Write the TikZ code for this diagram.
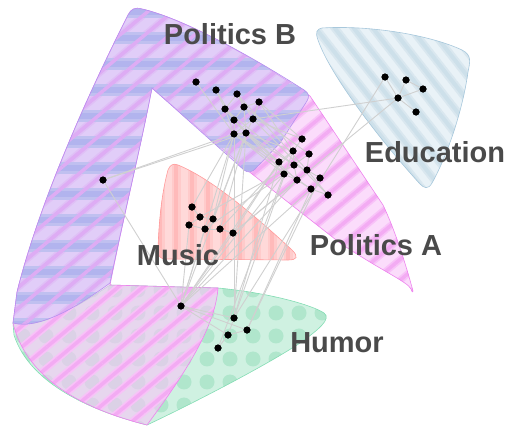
\documentclass[tikz,border=0pt]{standalone}
\usepackage{fontspec}
\newfontfamily\tagfont{Liberation Sans}
\usetikzlibrary{patterns.meta}

\definecolor{humorfill}{HTML}{CFF1E1}
\definecolor{humordot}{HTML}{B0E6CC}
\definecolor{humorline}{HTML}{84DDB4}
\definecolor{polafill}{HTML}{F8C4F8}
\definecolor{polasoft}{HTML}{F8C2F8}
\definecolor{polastripe}{HTML}{F3ABF3}
\definecolor{polaline}{HTML}{EE84EE}
\definecolor{polbfill}{HTML}{C8C0F6}
\definecolor{polbsoft}{HTML}{C0C0F0}
\definecolor{polbband}{HTML}{B2B4EE}
\definecolor{polbstripe}{HTML}{DEACF4}
\definecolor{polbline}{HTML}{B890F0}
\definecolor{musicfill}{HTML}{FFD9D9}
\definecolor{musicsoft}{HTML}{FFCBCB}
\definecolor{musicstripe}{HTML}{FFBABA}
\definecolor{musicline}{HTML}{FF9C9C}
\definecolor{edufill}{HTML}{E9F2F7}
\definecolor{edusoft}{HTML}{D9E7EF}
\definecolor{edustripe}{HTML}{CDE0EA}
\definecolor{eduline}{HTML}{A8C8DC}
\definecolor{linkgray}{HTML}{D0D0D0}
\definecolor{tagtext}{HTML}{4A4A4A}

\tikzset{
  dot/.style={circle,fill=black,inner sep=0pt,minimum size=7pt},
  link/.style={draw=linkgray,line width=0.9pt},
  tag/.style={anchor=base,inner sep=0pt,text=tagtext,font=\tagfont\bfseries\fontsize{29}{30}\selectfont},
  humor/.style={preaction={fill=humorfill},pattern={Dots[radius=7.5pt,distance=23pt]},pattern color=humordot,draw=humorline,line width=0.6pt},
  pola/.style={preaction={fill=polafill,fill opacity=0.6},
    preaction={pattern={Lines[angle=40,distance=16pt,line width=7pt]},pattern color=polasoft},
    pattern={Lines[angle=40,distance=16pt,line width=3.5pt]},pattern color=polastripe,
    draw=polaline,line width=0.6pt},
  polb/.style={preaction={fill=polbfill,fill opacity=0.5},
    preaction={pattern={Lines[angle=0,distance=26pt,line width=12pt]},pattern color=polbsoft},
    preaction={pattern={Lines[angle=0,distance=26pt,line width=6pt]},pattern color=polbband},
    pattern={Lines[angle=40,distance=16pt,line width=3.5pt]},pattern color=polbstripe,
    draw=polbline,line width=0.6pt},
  music/.style={preaction={fill=musicfill},
    preaction={pattern={Lines[angle=90,distance=16pt,line width=9pt]},pattern color=musicsoft},
    pattern={Lines[angle=90,distance=16pt,line width=4pt]},pattern color=musicstripe,
    draw=musicline,line width=0.6pt},
  edu/.style={preaction={fill=edufill},
    preaction={pattern={Lines[angle=-52,distance=15pt,line width=8pt]},pattern color=edusoft},
    pattern={Lines[angle=-52,distance=15pt,line width=4pt]},pattern color=edustripe,
    draw=eduline,line width=0.6pt}
}

\begin{document}
\begin{tikzpicture}[x=1pt,y=-1pt]
\useasboundingbox (0,0) rectangle (519,428);

% regions
\path[humor] (110,285) -- (218,288) .. controls (270,293) and (312,305) .. (324,313)
  .. controls (332,319) and (318,330) .. (300,343) .. controls (270,363) and (200,400) .. (147,425)
  .. controls (95,412) and (30,385) .. (14,335) -- (13,323)
  .. controls (40,330) and (80,305) .. (110,285) -- cycle;
\path[pola] (413,291) .. controls (406,265) and (395,230) .. (383,205) -- (310,96)
  .. controls (270,68) and (190,20) .. (142,9) .. controls (135,7) and (131,9) .. (128,15)
  .. controls (90,90) and (40,200) .. (17,292) -- (13,323)
  .. controls (28,385) and (95,412) .. (147,425) .. controls (180,380) and (215,330) .. (218,288)
  -- (110,285) .. controls (125,210) and (140,150) .. (152,88) -- (247,170) -- (340,243)
  .. controls (380,270) and (408,282) .. (411,289) .. controls (412,292) and (413,293) .. (413,291) -- cycle;
\path[polb] (13,323) -- (17,292) .. controls (40,200) and (90,90) .. (128,15)
  .. controls (131,9) and (135,7) .. (142,9) .. controls (190,20) and (270,68) .. (304,90)
  .. controls (310,94) and (309,97) .. (307,101) -- (280,143) -- (257,167)
  .. controls (252,173) and (248,173) .. (244,170) -- (152,88)
  .. controls (140,150) and (125,210) .. (110,283) .. controls (80,305) and (40,330) .. (13,323) -- cycle;
\path[music] (178,165) .. controls (215,180) and (265,225) .. (292,250)
  .. controls (299,257) and (297,260) .. (288,260) -- (166,259)
  .. controls (160,259) and (158,256) .. (158,250) .. controls (159,215) and (163,188) .. (168,170)
  .. controls (170,165) and (173,163) .. (178,165) -- cycle;
\path[edu] (322,28) .. controls (370,25) and (430,35) .. (462,50)
  .. controls (472,55) and (470,62) .. (468,72) .. controls (462,115) and (445,160) .. (432,183)
  .. controls (428,190) and (424,188) .. (420,184) .. controls (380,140) and (330,75) .. (318,40)
  .. controls (315,32) and (317,29) .. (322,28) -- cycle;

% vertices
\node[dot] (b1) at (196,82) {};
\node[dot] (b2) at (216,90) {};
\node[dot] (b3) at (237,94) {};
\node[dot] (b4) at (259,102) {};
\node[dot] (b5) at (225,109) {};
\node[dot] (b6) at (244,107) {};
\node[dot] (b7) at (234,120) {};
\node[dot] (b8) at (253,119) {};
\node[dot] (b9) at (234,134) {};
\node[dot] (b10) at (246,133) {};
\node[dot] (a1) at (302,139) {};
\node[dot] (a2) at (293,151) {};
\node[dot] (a3) at (309,154) {};
\node[dot] (a4) at (279,162) {};
\node[dot] (a5) at (294,165) {};
\node[dot] (a6) at (307,170) {};
\node[dot] (a7) at (284,174) {};
\node[dot] (a8) at (320,178) {};
\node[dot] (a9) at (297,180) {};
\node[dot] (a10) at (311,189) {};
\node[dot] (a11) at (328,195) {};
\node[dot] (e1) at (385,77) {};
\node[dot] (e2) at (406,80) {};
\node[dot] (e3) at (423,89) {};
\node[dot] (e4) at (398,98) {};
\node[dot] (e5) at (416,112) {};
\node[dot] (m1) at (192,207) {};
\node[dot] (m2) at (200,217) {};
\node[dot] (m3) at (213,219) {};
\node[dot] (m4) at (189,225) {};
\node[dot] (m5) at (205,229) {};
\node[dot] (m6) at (220,229) {};
\node[dot] (m7) at (233,233) {};
\node[dot] (h0) at (181,306) {};
\node[dot] (h1) at (234,318) {};
\node[dot] (h2) at (247,330) {};
\node[dot] (h3) at (228,335) {};
\node[dot] (h4) at (218,348) {};
\node[dot] (l1) at (103,180) {};

% links
\draw[link] (b1) to (b9);
\draw[link] (b2) to (b5);
\draw[link] (b2) to (b7);
\draw[link] (b3) to (b5);
\draw[link] (b3) to (b6);
\draw[link] (b3) to (b8);
\draw[link] (b4) to (b6);
\draw[link] (b4) to (b8);
\draw[link] (b5) to (b7);
\draw[link] (b5) to (b9);
\draw[link] (b6) to (b7);
\draw[link] (b6) to (b10);
\draw[link] (b7) to (b9);
\draw[link] (b7) to (b10);
\draw[link] (b8) to (b9);
\draw[link] (b8) to (b10);
\draw[link] (b9) to (b10);
\draw[link] (b9) to (a4);
\draw[link] (b9) to (a7);
\draw[link] (b10) to (a2);
\draw[link] (b10) to (a5);
\draw[link] (b7) to (a4);
\draw[link] (b8) to (a1);
\draw[link] (b6) to (a3);
\draw[link] (b5) to (a5);
\draw[link] (b3) to (a6);
\draw[link] (b4) to (a2);
\draw[link] (b10) to (a9);
\draw[link] (b9) to (a10);
\draw[link] (b8) to (a11);
\draw[link] (b7) to (a7);
\draw[link] (b4) to (a1);
\draw[link] (a1) to (a2);
\draw[link] (a2) to (a4);
\draw[link] (a2) to (a5);
\draw[link] (a3) to (a5);
\draw[link] (a4) to (a7);
\draw[link] (a5) to (a6);
\draw[link] (a6) to (a8);
\draw[link] (a7) to (a9);
\draw[link] (a9) to (a10);
\draw[link] (a10) to (a11);
\draw[link] (a6) to (a11);
\draw[link] (a3) to (a6);
\draw[link] (a5) to (a9);
\draw[link] (l1) to (b9);
\draw[link] (l1) to (b10);
\draw[link] (l1) to (h0);
\draw[link] (e1) to (e4);
\draw[link] (e2) to (e4);
\draw[link] (e2) to (e3);
\draw[link] (e3) to (e4);
\draw[link] (e4) to (e5);
\draw[link] (e4) to (b8);
\draw[link] (e1) to (h1);
\draw[link] (e4) to (m7);
\draw[link] (m1) to (m2);
\draw[link] (m2) to (m3);
\draw[link] (m2) to (m4);
\draw[link] (m3) to (m5);
\draw[link] (m4) to (m5);
\draw[link] (m5) to (m6);
\draw[link] (m6) to (m7);
\draw[link] (m1) to (b9);
\draw[link] (m3) to (b9);
\draw[link] (m3) to (b10);
\draw[link] (m6) to (b10);
\draw[link] (m7) to (a4);
\draw[link] (m5) to (a7);
\draw[link] (m7) to (a9);
\draw[link] (m6) to (a2);
\draw[link] (m2) to (a5);
\draw[link] (h0) to (m4);
\draw[link] (h0) to (m5);
\draw[link] (h0) to (m7);
\draw[link] (h0) to (b9);
\draw[link] (h0) to (b10);
\draw[link] (h0) to (a4);
\draw[link] (h0) to (a7);
\draw[link] (h0) to (a9);
\draw[link] (h0) to (a10);
\draw[link] (h0) to (h1);
\draw[link] (h0) to (h2);
\draw[link] (h0) to (h3);
\draw[link] (h1) to (h3);
\draw[link] (h1) to (b9);
\draw[link] (h1) to (b10);
\draw[link] (h1) to (a4);
\draw[link] (h1) to (a2);
\draw[link] (h2) to (h3);
\draw[link] (h2) to (a10);
\draw[link] (h2) to (a8);
\draw[link] (h3) to (h4);
\draw[link] (h4) to (a7);

% put the vertices back on top of the links
\foreach \v in {b1,b2,b3,b4,b5,b6,b7,b8,b9,b10,a1,a2,a3,a4,a5,a6,a7,a8,a9,a10,a11,e1,e2,e3,e4,e5,m1,m2,m3,m4,m5,m6,m7,h0,h1,h2,h3,h4,l1}
  \fill (\v) circle (3.5pt);

% group names
\node[tag] (tagpolb) at (230,45) {Politics B};
\node[tag] (tagedu) at (435,162) {Education};
\node[tag] (tagmusic) at (178,265) {Music};
\node[tag] (tagpola) at (376,255) {Politics A};
\node[tag] (taghumor) at (337,352) {Humor};
\end{tikzpicture}
\end{document}
